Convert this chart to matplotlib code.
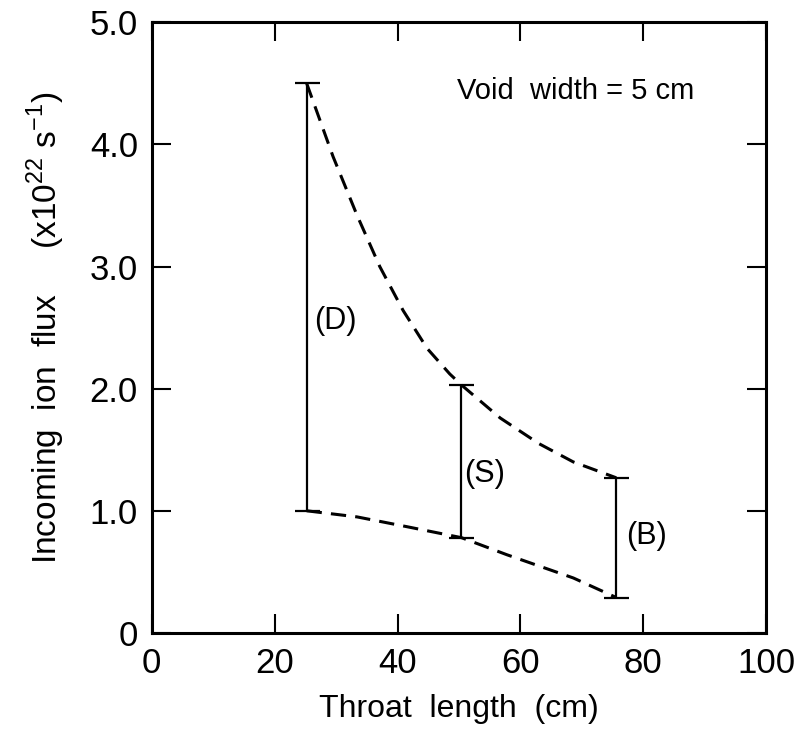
"""Incoming ion flux vs throat length (void width 5 cm)."""

import matplotlib

matplotlib.use("Agg")
import matplotlib.pyplot as plt

# upper dashed curve
upper_x = [25.2, 29.5, 33.4, 37.1, 40.9, 44.8, 48.5, 50.4, 56.7, 63.0, 68.6, 75.6]
upper_y = [4.50, 3.90, 3.42, 3.00, 2.64, 2.33, 2.12, 2.03, 1.76, 1.55, 1.40, 1.27]

# lower dashed curve
lower_x = [25.2, 33.4, 41.5, 50.4, 57.8, 68.6, 75.6]
lower_y = [1.00, 0.95, 0.87, 0.78, 0.64, 0.45, 0.29]

# vertical ranges: label, x, bottom, top
bar_labels = ["(D)", "(S)", "(B)"]
bar_x = [25.2, 50.4, 75.6]
bar_lo = [1.00, 0.78, 0.29]
bar_hi = [4.50, 2.03, 1.27]

x_ticks = [0, 20, 40, 60, 80, 100]
x_tick_labels = ["0", "20", "40", "60", "80", "100"]
y_ticks = [0, 1, 2, 3, 4, 5]
y_tick_labels = ["0", "1.0", "2.0", "3.0", "4.0", "5.0"]


def main() -> None:
    plt.rcParams["font.family"] = ["Liberation Sans", "DejaVu Sans"]
    plt.rcParams["mathtext.fontset"] = "custom"
    plt.rcParams["mathtext.rm"] = "Liberation Sans"
    fig = plt.figure(figsize=(7.99, 7.42), dpi=100)
    ax = fig.add_axes([0.190, 0.147, 0.769, 0.823])

    dash = (0, (5, 3))
    ax.plot(upper_x, upper_y, color="black", lw=2.2, linestyle=dash)
    ax.plot(lower_x, lower_y, color="black", lw=2.2, linestyle=dash)
    mids = [(lo + hi) / 2 for lo, hi in zip(bar_lo, bar_hi)]
    half = [(hi - lo) / 2 for lo, hi in zip(bar_lo, bar_hi)]
    ax.errorbar(bar_x, mids, yerr=[half, half], fmt="none", ecolor="black",
                elinewidth=1.6, capsize=9, capthick=1.6)

    offsets = [(4.7, 2.55), (3.8, 1.30), (4.9, 0.79)]
    for label, x, (dx, y) in zip(bar_labels, bar_x, offsets):
        ax.text(x + dx, y, label, fontsize=22, ha="center", va="center")

    ax.text(69, 4.44, "Void  width = 5 cm", fontsize=21, ha="center", va="center")

    ax.set_xlim(0, 100)
    ax.set_ylim(0, 5)
    ax.set_xticks(x_ticks, x_tick_labels)
    ax.set_yticks(y_ticks, y_tick_labels)
    ax.tick_params(direction="in", length=13.5, width=1.5, top=True, right=True,
                   labelsize=25, pad=10)
    for spine in ax.spines.values():
        spine.set_linewidth(2.2)
    ax.set_xlabel("Throat  length  (cm)", fontsize=23, labelpad=10)
    ax.set_ylabel(r"Incoming  ion  flux     (x10$^{22}$ s$^{-1}$)", fontsize=24, labelpad=16)

    fig.savefig("out.png", dpi=100)
    plt.close(fig)


if __name__ == "__main__":
    main()
